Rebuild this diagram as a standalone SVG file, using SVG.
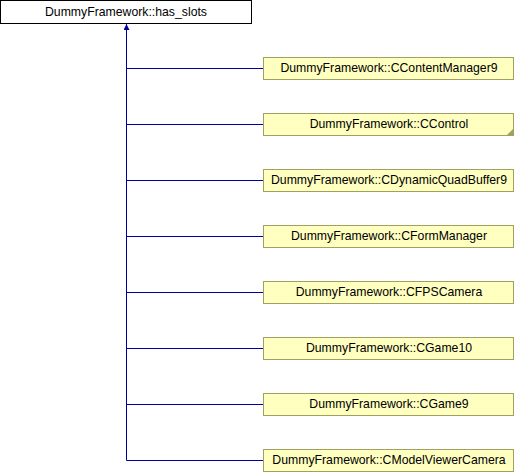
<svg xmlns="http://www.w3.org/2000/svg" width="516" height="472" viewBox="0 0 516 472">
<style>
text{font-family:"Liberation Sans",Arial,sans-serif;font-size:12.25px;fill:#000;text-anchor:middle}
.n rect{fill:#ffffc0;stroke:#a0a060;stroke-width:1}
.c{stroke:#0000a0;stroke-width:1;fill:none}
</style>
<defs>
<marker id="ah" viewBox="0 0 10 10" refX="10" refY="5" markerWidth="6" markerHeight="6" markerUnits="userSpaceOnUse" orient="auto">
<path d="M0,0 L10,5 L0,10 z" fill="#0000a0"/>
</marker>
</defs>
<rect width="516" height="472" fill="#fff"/>
<g id="connectors">
<path class="c" d="M126.5,460.5 V24" marker-end="url(#ah)"/>
<path class="c" d="M126.5,68.5 H263"/>
<path class="c" d="M126.5,124.5 H263"/>
<path class="c" d="M126.5,180.5 H263"/>
<path class="c" d="M126.5,236.5 H263"/>
<path class="c" d="M126.5,292.5 H263"/>
<path class="c" d="M126.5,348.5 H263"/>
<path class="c" d="M126.5,404.5 H263"/>
<path class="c" d="M126.5,460.5 H263"/>
</g>
<g id="has_slots">
<rect x="0.5" y="0.5" width="251" height="23" fill="#fff" stroke="#000"/>
<text x="126" y="15.5">DummyFramework::has_slots</text>
</g>
<g id="CContentManager9" class="n">
<rect x="263.5" y="57.5" width="250" height="22"/>
<text x="389" y="72">DummyFramework::CContentManager9</text>
</g>
<g id="CControl" class="n">
<rect x="263.5" y="113.5" width="250" height="22"/>
<path d="M513,129 L513,135 L507,135 z" fill="#a0a060"/>
<text x="389" y="128">DummyFramework::CControl</text>
</g>
<g id="CDynamicQuadBuffer9" class="n">
<rect x="263.5" y="169.5" width="250" height="22"/>
<text x="389" y="184">DummyFramework::CDynamicQuadBuffer9</text>
</g>
<g id="CFormManager" class="n">
<rect x="263.5" y="225.5" width="250" height="22"/>
<text x="389" y="240">DummyFramework::CFormManager</text>
</g>
<g id="CFPSCamera" class="n">
<rect x="263.5" y="281.5" width="250" height="22"/>
<text x="389" y="296">DummyFramework::CFPSCamera</text>
</g>
<g id="CGame10" class="n">
<rect x="263.5" y="337.5" width="250" height="22"/>
<text x="389" y="352">DummyFramework::CGame10</text>
</g>
<g id="CGame9" class="n">
<rect x="263.5" y="393.5" width="250" height="22"/>
<text x="389" y="408">DummyFramework::CGame9</text>
</g>
<g id="CModelViewerCamera" class="n">
<rect x="263.5" y="449.5" width="250" height="22"/>
<text x="389" y="464">DummyFramework::CModelViewerCamera</text>
</g>
</svg>
